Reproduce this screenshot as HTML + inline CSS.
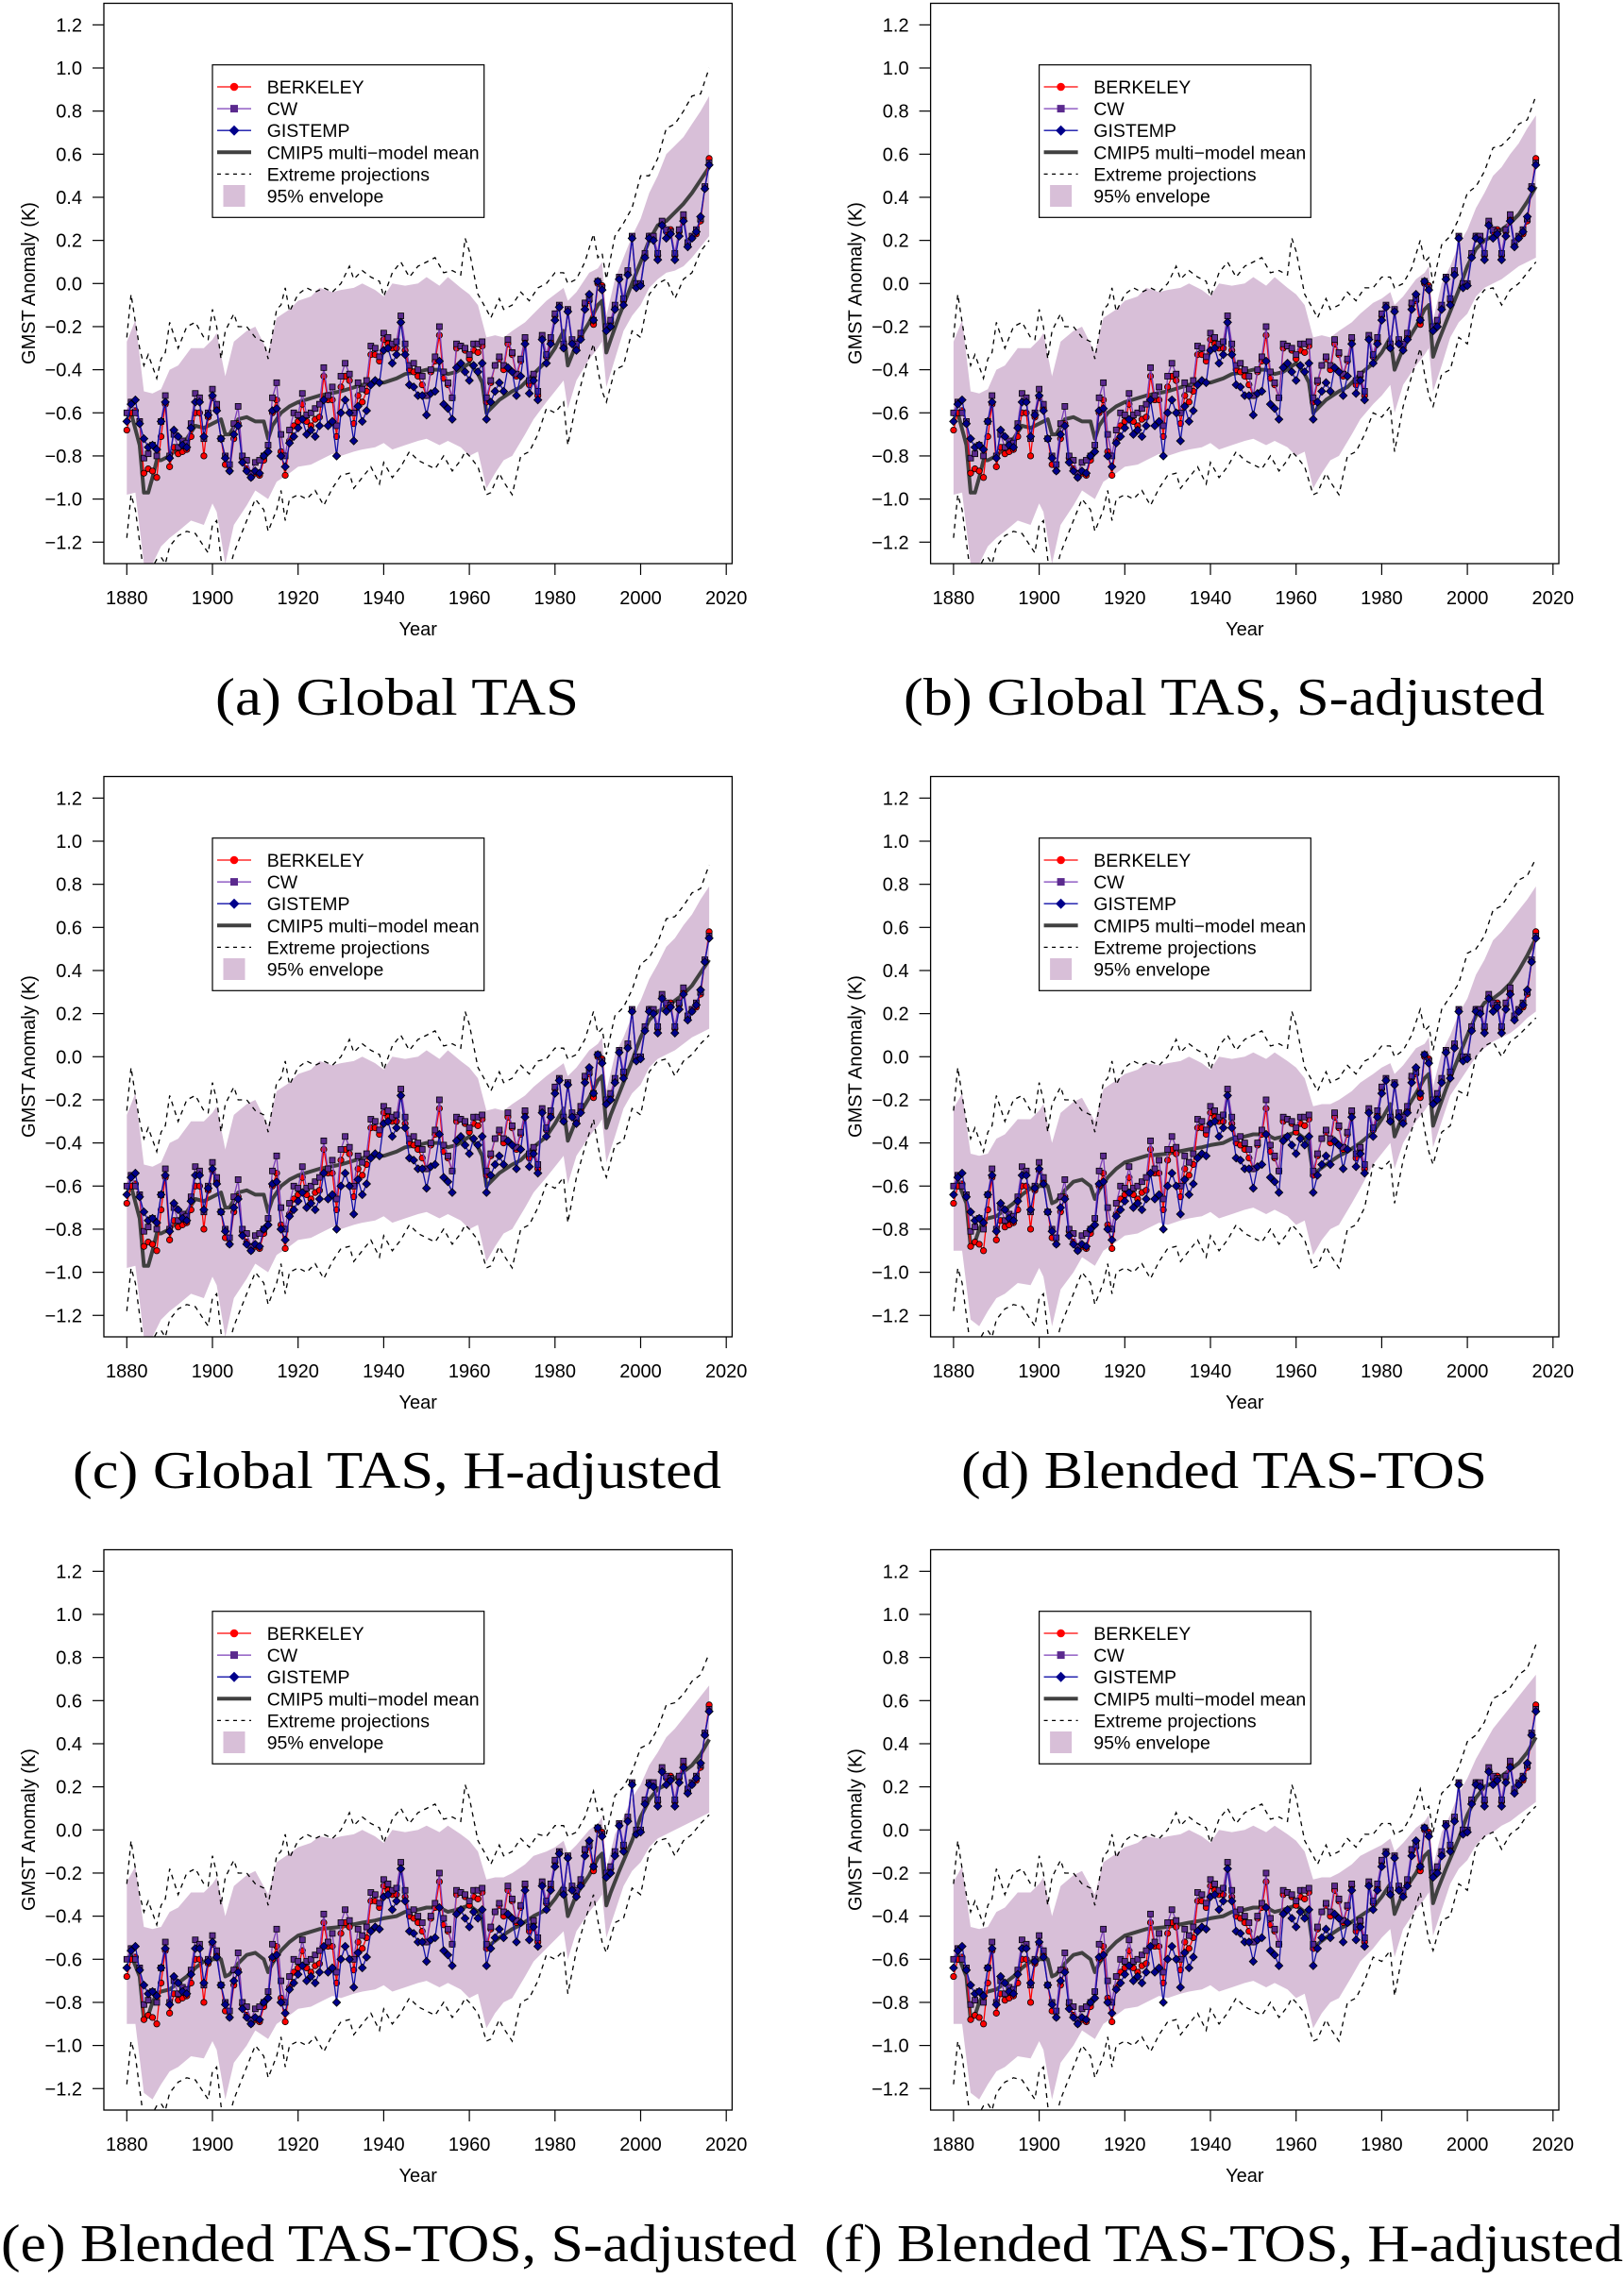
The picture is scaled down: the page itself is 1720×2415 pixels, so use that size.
<!DOCTYPE html>
<html><head><meta charset="utf-8"><style>
html,body{margin:0;padding:0;background:#fff}
svg{display:block}
text{font-family:"Liberation Sans",sans-serif}
.cap{font-family:"Liberation Serif",serif}
</style></head><body>
<svg id="fig" width="1720" height="2415" viewBox="0 0 1720 2415" xmlns="http://www.w3.org/2000/svg"></svg>
<script>
// ---------- observations (shared across panels) ----------
const years = [];
for (let y = 1880; y <= 2016; y++) years.push(y);
const berkeley = [
-0.68,-0.60,-0.59,-0.65,-0.88,-0.86,-0.87,-0.90,-0.71,-0.56,
-0.85,-0.76,-0.79,-0.78,-0.77,-0.71,-0.60,-0.60,-0.80,-0.62,
-0.53,-0.58,-0.72,-0.84,-0.87,-0.72,-0.65,-0.81,-0.86,-0.90,
-0.88,-0.89,-0.82,-0.78,-0.60,-0.54,-0.78,-0.89,-0.73,-0.66,
-0.64,-0.56,-0.64,-0.66,-0.63,-0.62,-0.43,-0.54,-0.54,-0.71,
-0.48,-0.43,-0.45,-0.65,-0.52,-0.55,-0.50,-0.33,-0.33,-0.36,
-0.26,-0.28,-0.30,-0.30,-0.18,-0.31,-0.40,-0.41,-0.43,-0.47,
-0.52,-0.41,-0.36,-0.24,-0.44,-0.47,-0.53,-0.30,-0.29,-0.31,
-0.35,-0.31,-0.32,-0.29,-0.55,-0.46,-0.38,-0.35,-0.40,-0.28,
-0.33,-0.43,-0.36,-0.26,-0.47,-0.43,-0.52,-0.25,-0.34,-0.27,
-0.15,-0.11,-0.30,-0.13,-0.27,-0.30,-0.25,-0.10,-0.08,-0.19,
0.00,-0.01,-0.20,-0.18,-0.11,0.02,-0.08,0.05,0.21,-0.01,
0.00,0.13,0.22,0.21,0.13,0.28,0.24,0.25,0.13,0.24,
0.30,0.18,0.21,0.23,0.29,0.44,0.58];
const cw = [
-0.60,-0.55,-0.60,-0.64,-0.81,-0.79,-0.75,-0.80,-0.64,-0.52,
-0.80,-0.70,-0.76,-0.73,-0.74,-0.65,-0.51,-0.53,-0.72,-0.60,
-0.49,-0.56,-0.72,-0.80,-0.84,-0.65,-0.57,-0.80,-0.82,-0.88,
-0.83,-0.82,-0.80,-0.75,-0.53,-0.46,-0.70,-0.80,-0.68,-0.60,
-0.61,-0.51,-0.61,-0.60,-0.58,-0.56,-0.39,-0.52,-0.48,-0.66,
-0.43,-0.37,-0.42,-0.60,-0.46,-0.49,-0.45,-0.29,-0.30,-0.34,
-0.23,-0.25,-0.28,-0.27,-0.15,-0.28,-0.38,-0.37,-0.40,-0.43,
-0.52,-0.40,-0.34,-0.20,-0.41,-0.46,-0.53,-0.28,-0.29,-0.30,
-0.33,-0.28,-0.28,-0.27,-0.53,-0.45,-0.38,-0.34,-0.38,-0.26,
-0.32,-0.42,-0.35,-0.25,-0.45,-0.42,-0.50,-0.24,-0.33,-0.25,
-0.14,-0.10,-0.28,-0.12,-0.26,-0.28,-0.23,-0.09,-0.07,-0.17,
0.01,-0.02,-0.20,-0.17,-0.10,0.03,-0.07,0.06,0.22,0.00,
0.00,0.14,0.22,0.22,0.14,0.29,0.25,0.24,0.14,0.25,
0.32,0.19,0.22,0.25,0.30,0.45,0.56];
const gistemp = [
-0.64,-0.56,-0.54,-0.65,-0.72,-0.76,-0.75,-0.77,-0.64,-0.55,
-0.81,-0.68,-0.71,-0.75,-0.76,-0.67,-0.55,-0.55,-0.71,-0.61,
-0.52,-0.59,-0.72,-0.81,-0.87,-0.70,-0.66,-0.83,-0.87,-0.90,
-0.87,-0.88,-0.80,-0.78,-0.59,-0.58,-0.80,-0.85,-0.74,-0.71,
-0.67,-0.63,-0.70,-0.68,-0.71,-0.66,-0.54,-0.66,-0.64,-0.80,
-0.60,-0.54,-0.60,-0.73,-0.57,-0.64,-0.59,-0.47,-0.45,-0.46,
-0.31,-0.30,-0.37,-0.33,-0.18,-0.33,-0.47,-0.48,-0.52,-0.52,
-0.61,-0.51,-0.50,-0.36,-0.56,-0.58,-0.63,-0.39,-0.37,-0.41,
-0.45,-0.38,-0.41,-0.37,-0.63,-0.55,-0.50,-0.46,-0.50,-0.39,
-0.41,-0.52,-0.43,-0.28,-0.51,-0.45,-0.54,-0.26,-0.37,-0.28,
-0.17,-0.11,-0.30,-0.13,-0.28,-0.31,-0.26,-0.12,-0.05,-0.17,
0.01,-0.03,-0.22,-0.20,-0.12,0.02,-0.10,0.04,0.21,-0.02,
-0.01,0.12,0.21,0.20,0.11,0.27,0.21,0.23,0.11,0.22,
0.29,0.17,0.21,0.24,0.31,0.44,0.55];

// ---------- model envelope knots ----------
const envYearsEarly = [1880,1882,1884,1886,1888,1890,1892,1895,1898,1900,1901,1903,1905,1908,1910,1913,1915,1918,1920,1923,1925,1928,1930,1933,1935,1938,1940,1942,1945,1948,1950,1953,1955,1958,1960,1962,1964,1966,1968,1970,1973,1975];
const envYearsLate = [1978,1980,1982,1983,1985,1988,1990,1991,1992,1994,1996,1998,2000,2002,2004,2006,2008,2010,2012,2014,2016];
const envUpTasEarly = [-0.27,-0.17,-0.50,-0.51,-0.49,-0.40,-0.38,-0.30,-0.30,-0.26,-0.23,-0.43,-0.27,-0.22,-0.20,-0.32,-0.16,-0.12,-0.08,-0.06,-0.02,-0.04,-0.03,-0.02,0.0,-0.03,-0.06,0.0,-0.01,0.0,0.03,-0.01,0.03,-0.02,-0.05,-0.10,-0.25,-0.24,-0.25,-0.22,-0.18,-0.14];
const envLoTasEarly = [-0.98,-0.97,-1.30,-1.30,-1.22,-1.18,-1.15,-1.10,-1.12,-1.02,-1.06,-1.30,-1.12,-1.03,-0.96,-1.00,-0.92,-0.88,-0.85,-0.84,-0.82,-0.79,-0.80,-0.78,-0.77,-0.76,-0.74,-0.77,-0.75,-0.73,-0.72,-0.75,-0.73,-0.76,-0.80,-0.78,-0.95,-0.88,-0.82,-0.80,-0.70,-0.63];
const envUpBlEarly = [-0.24,-0.17,-0.45,-0.46,-0.45,-0.38,-0.36,-0.29,-0.29,-0.25,-0.22,-0.40,-0.26,-0.21,-0.19,-0.30,-0.15,-0.11,-0.08,-0.06,-0.03,-0.04,-0.03,-0.02,0.0,-0.03,-0.06,0.0,-0.01,0.0,0.02,-0.01,0.02,-0.02,-0.05,-0.10,-0.23,-0.22,-0.22,-0.20,-0.16,-0.12];
const envLoBlEarly = [-0.90,-0.90,-1.22,-1.25,-1.18,-1.12,-1.10,-1.05,-1.06,-0.98,-1.02,-1.25,-1.08,-1.0,-0.93,-0.97,-0.90,-0.86,-0.83,-0.82,-0.80,-0.77,-0.78,-0.76,-0.75,-0.74,-0.72,-0.75,-0.73,-0.71,-0.70,-0.73,-0.71,-0.74,-0.78,-0.76,-0.92,-0.85,-0.80,-0.78,-0.68,-0.61];
const envUpA = [-0.08,-0.05,-0.02,-0.08,-0.04,0.05,0.07,0.10,-0.15,0.02,0.12,0.22,0.30,0.42,0.50,0.60,0.64,0.68,0.74,0.80,0.87];
const envLoA = [-0.55,-0.50,-0.45,-0.58,-0.45,-0.35,-0.30,-0.27,-0.48,-0.35,-0.22,-0.15,-0.10,-0.02,0.02,0.05,0.06,0.08,0.12,0.17,0.22];
const envUpB = [-0.09,-0.07,-0.04,-0.1,-0.06,0.02,0.05,0.08,-0.17,0.0,0.08,0.18,0.25,0.35,0.42,0.50,0.54,0.60,0.65,0.72,0.78];
const envLoB = [-0.56,-0.52,-0.47,-0.60,-0.47,-0.38,-0.33,-0.30,-0.50,-0.38,-0.25,-0.18,-0.14,-0.06,-0.02,0.0,0.02,0.05,0.08,0.10,0.12];
const envUpC = [-0.09,-0.06,-0.03,-0.09,-0.05,0.03,0.06,0.09,-0.16,0.01,0.09,0.19,0.26,0.36,0.43,0.51,0.55,0.61,0.66,0.73,0.79];
const envLoC = [-0.56,-0.51,-0.46,-0.59,-0.46,-0.37,-0.32,-0.29,-0.49,-0.37,-0.24,-0.17,-0.13,-0.05,-0.01,0.01,0.03,0.06,0.09,0.11,0.13];
const envUpD = [-0.08,-0.05,-0.03,-0.08,-0.04,0.04,0.06,0.09,-0.14,0.02,0.10,0.20,0.27,0.38,0.45,0.54,0.58,0.63,0.68,0.73,0.79];
const envLoD = [-0.50,-0.45,-0.40,-0.52,-0.40,-0.30,-0.25,-0.22,-0.42,-0.30,-0.18,-0.12,-0.06,0.0,0.04,0.07,0.09,0.11,0.14,0.18,0.21];
const envUpE = [-0.10,-0.08,-0.05,-0.11,-0.07,0.0,0.03,0.06,-0.18,-0.02,0.06,0.15,0.21,0.30,0.36,0.43,0.47,0.52,0.57,0.62,0.67];
const envLoE = [-0.55,-0.51,-0.47,-0.60,-0.47,-0.38,-0.33,-0.30,-0.50,-0.38,-0.26,-0.19,-0.15,-0.08,-0.04,-0.02,0.0,0.02,0.04,0.06,0.08];
const envUpF = [-0.09,-0.07,-0.04,-0.1,-0.06,0.01,0.04,0.07,-0.17,-0.01,0.07,0.17,0.24,0.33,0.40,0.47,0.52,0.57,0.62,0.67,0.72];
const envLoF = [-0.55,-0.50,-0.46,-0.59,-0.46,-0.37,-0.32,-0.29,-0.49,-0.37,-0.25,-0.18,-0.14,-0.07,-0.03,-0.01,0.02,0.04,0.07,0.10,0.13];

// ---------- multi-model mean knots ----------
const meanYearsEarly = [1880,1881,1883,1884,1885,1886,1887,1888,1890,1892,1894,1896,1898,1900,1902,1903,1904,1906,1908,1910,1912,1913,1914,1916,1918,1920,1925,1930,1935,1938,1940,1943,1945,1948,1950,1953,1955,1957,1960,1962,1963,1964,1965,1967,1970,1972,1975];
const meanYearsLate = [1978,1980,1982,1983,1985,1988,1990,1991,1992,1993,1995,1998,2000,2002,2004,2006,2008,2010,2012,2014,2016];
const meanTasEarly = [-0.62,-0.60,-0.75,-0.97,-0.97,-0.90,-0.82,-0.82,-0.80,-0.76,-0.72,-0.66,-0.67,-0.65,-0.63,-0.70,-0.70,-0.63,-0.62,-0.64,-0.64,-0.72,-0.66,-0.60,-0.57,-0.55,-0.52,-0.50,-0.47,-0.46,-0.46,-0.44,-0.42,-0.41,-0.40,-0.40,-0.42,-0.41,-0.37,-0.42,-0.46,-0.60,-0.58,-0.54,-0.50,-0.48,-0.42];
const meanBlEarly = [-0.60,-0.58,-0.68,-0.88,-0.86,-0.80,-0.76,-0.75,-0.74,-0.71,-0.68,-0.64,-0.61,-0.60,-0.60,-0.68,-0.67,-0.62,-0.58,-0.57,-0.60,-0.66,-0.62,-0.56,-0.52,-0.49,-0.46,-0.45,-0.43,-0.42,-0.41,-0.40,-0.38,-0.37,-0.36,-0.36,-0.38,-0.37,-0.35,-0.38,-0.41,-0.55,-0.53,-0.50,-0.46,-0.44,-0.40];
const meanA = [-0.36,-0.30,-0.22,-0.38,-0.28,-0.18,-0.10,-0.08,-0.32,-0.26,-0.15,0.0,0.10,0.20,0.27,0.29,0.33,0.37,0.42,0.48,0.54];
const meanB = [-0.37,-0.32,-0.25,-0.40,-0.30,-0.20,-0.12,-0.10,-0.34,-0.28,-0.18,-0.03,0.08,0.16,0.20,0.22,0.25,0.28,0.32,0.38,0.45];
const meanC = [-0.37,-0.31,-0.24,-0.39,-0.29,-0.19,-0.11,-0.09,-0.33,-0.27,-0.17,-0.02,0.09,0.17,0.21,0.23,0.26,0.29,0.33,0.39,0.45];
const meanD = [-0.35,-0.29,-0.22,-0.37,-0.27,-0.17,-0.10,-0.08,-0.32,-0.26,-0.15,0.0,0.10,0.19,0.25,0.27,0.30,0.34,0.40,0.47,0.55];
const meanE = [-0.37,-0.32,-0.26,-0.40,-0.30,-0.21,-0.13,-0.11,-0.35,-0.29,-0.19,-0.05,0.06,0.14,0.19,0.21,0.24,0.27,0.30,0.35,0.42];
const meanF = [-0.36,-0.31,-0.25,-0.39,-0.29,-0.20,-0.12,-0.10,-0.34,-0.28,-0.18,-0.04,0.07,0.15,0.20,0.22,0.25,0.28,0.31,0.36,0.43];

// ---------- extreme projections knots ----------
const extYearsEarly = [1880,1881,1882,1883,1884,1885,1887,1888,1889,1890,1892,1894,1896,1898,1899,1900,1901,1902,1903,1905,1906,1908,1910,1912,1913,1915,1916,1917,1918,1920,1922,1924,1926,1928,1930,1932,1933,1935,1937,1939,1940,1942,1944,1946,1948,1950,1952,1954,1956,1958,1959,1960,1962,1964,1965,1967,1968,1970,1972,1974,1976];
const extYearsLate = [1978,1980,1982,1983,1985,1987,1989,1990,1991,1992,1994,1996,1998,2000,2002,2004,2006,2008,2010,2012,2014,2016];
const extUpEarly = [-0.25,-0.05,-0.18,-0.30,-0.38,-0.33,-0.44,-0.35,-0.32,-0.18,-0.30,-0.20,-0.18,-0.25,-0.26,-0.12,-0.20,-0.35,-0.22,-0.14,-0.20,-0.20,-0.25,-0.27,-0.35,-0.12,-0.10,-0.02,-0.13,-0.05,-0.02,-0.04,-0.02,-0.04,0.0,0.08,0.02,0.06,0.03,0.01,-0.06,0.05,0.10,0.03,0.08,0.10,0.12,0.05,0.06,0.04,0.21,0.15,-0.05,-0.12,-0.16,-0.07,-0.12,-0.10,-0.04,-0.08,-0.02];
const extLoEarly = [-1.18,-0.98,-1.05,-1.20,-1.35,-1.35,-1.28,-1.27,-1.30,-1.22,-1.17,-1.15,-1.16,-1.22,-1.25,-1.12,-1.10,-1.28,-1.40,-1.25,-1.20,-1.10,-1.00,-1.05,-1.15,-1.05,-0.96,-1.10,-1.00,-0.98,-1.00,-0.96,-1.03,-0.95,-0.89,-0.88,-0.95,-0.90,-0.85,-0.93,-0.83,-0.90,-0.85,-0.78,-0.82,-0.84,-0.86,-0.80,-0.87,-0.82,-0.78,-0.80,-0.85,-0.98,-0.97,-0.88,-0.92,-0.98,-0.80,-0.78,-0.70];
const extUpA = [0.0,0.05,0.05,0.0,0.02,0.1,0.23,0.12,0.14,0.02,0.22,0.28,0.35,0.50,0.50,0.58,0.72,0.74,0.80,0.87,0.88,1.00];
const extLoA = [-0.58,-0.60,-0.55,-0.75,-0.55,-0.40,-0.28,-0.40,-0.50,-0.55,-0.40,-0.38,-0.22,-0.25,-0.05,0.0,0.02,-0.07,0.02,0.05,0.15,0.20];
const extUpB = [-0.02,0.03,0.03,-0.02,0.0,0.07,0.2,0.10,0.12,0.0,0.18,0.22,0.30,0.42,0.45,0.52,0.63,0.64,0.68,0.74,0.76,0.87];
const extLoB = [-0.60,-0.62,-0.57,-0.78,-0.57,-0.43,-0.30,-0.42,-0.52,-0.57,-0.42,-0.40,-0.25,-0.28,-0.08,-0.03,-0.02,-0.10,-0.03,0.0,0.05,0.10];
const extUpC = [-0.01,0.04,0.04,-0.01,0.01,0.08,0.21,0.11,0.13,0.01,0.19,0.23,0.31,0.43,0.46,0.53,0.64,0.65,0.70,0.76,0.78,0.89];
const extLoC = [-0.59,-0.61,-0.56,-0.77,-0.56,-0.42,-0.29,-0.41,-0.51,-0.56,-0.41,-0.39,-0.24,-0.27,-0.07,-0.02,-0.01,-0.09,-0.02,0.01,0.06,0.10];
const extUpD = [0.0,0.05,0.05,0.0,0.03,0.1,0.22,0.12,0.14,0.03,0.22,0.28,0.34,0.48,0.50,0.56,0.68,0.70,0.76,0.82,0.84,0.92];
const extLoD = [-0.50,-0.52,-0.48,-0.68,-0.48,-0.34,-0.22,-0.34,-0.44,-0.50,-0.35,-0.32,-0.16,-0.18,0.0,0.05,0.07,0.0,0.07,0.10,0.14,0.18];
const extUpE = [-0.03,0.02,0.02,-0.03,-0.01,0.06,0.18,0.08,0.10,-0.02,0.16,0.20,0.27,0.38,0.40,0.47,0.58,0.59,0.63,0.69,0.72,0.82];
const extLoE = [-0.58,-0.60,-0.56,-0.76,-0.56,-0.42,-0.30,-0.42,-0.52,-0.57,-0.43,-0.41,-0.27,-0.30,-0.10,-0.05,-0.04,-0.12,-0.05,-0.02,0.03,0.07];
const extUpF = [-0.02,0.03,0.03,-0.02,0.0,0.07,0.19,0.09,0.11,-0.01,0.17,0.21,0.29,0.41,0.44,0.50,0.61,0.63,0.66,0.72,0.75,0.86];
const extLoF = [-0.59,-0.61,-0.56,-0.77,-0.56,-0.42,-0.29,-0.41,-0.51,-0.56,-0.42,-0.40,-0.25,-0.28,-0.08,-0.03,-0.01,-0.09,-0.02,0.01,0.07,0.11];

const yTicks = [-1.2,-1.0,-0.8,-0.6,-0.4,-0.2,0.0,0.2,0.4,0.6,0.8,1.0,1.2];
const yTickLabels = ["\u22121.2","\u22121.0","\u22120.8","\u22120.6","\u22120.4","\u22120.2","0.0","0.2","0.4","0.6","0.8","1.0","1.2"];
const xTicks = [1880,1900,1920,1940,1960,1980,2000,2020];
const legendLabels = ["BERKELEY","CW","GISTEMP","CMIP5 multi\u2212model mean","Extreme projections","95% envelope"];
const captions = ["(a) Global TAS","(b) Global TAS, S-adjusted","(c) Global TAS, H-adjusted","(d) Blended TAS-TOS","(e) Blended TAS-TOS, S-adjusted","(f) Blended TAS-TOS, H-adjusted"];

const panels = [
 {id:'a',dx:0,dy:0,capX:228,capW:385,eu:envUpTasEarly.concat(envUpA),el:envLoTasEarly.concat(envLoA),m:meanTasEarly.concat(meanA),xu:extUpEarly.concat(extUpA),xl:extLoEarly.concat(extLoA)},
 {id:'b',dx:875.6,dy:0,capX:957,capW:679,eu:envUpTasEarly.concat(envUpB),el:envLoTasEarly.concat(envLoB),m:meanTasEarly.concat(meanB),xu:extUpEarly.concat(extUpB),xl:extLoEarly.concat(extLoB)},
 {id:'c',dx:0,dy:819,capX:77,capW:687,eu:envUpTasEarly.concat(envUpC),el:envLoTasEarly.concat(envLoC),m:meanTasEarly.concat(meanC),xu:extUpEarly.concat(extUpC),xl:extLoEarly.concat(extLoC)},
 {id:'d',dx:875.6,dy:819,capX:1018,capW:557,eu:envUpBlEarly.concat(envUpD),el:envLoBlEarly.concat(envLoD),m:meanBlEarly.concat(meanD),xu:extUpEarly.concat(extUpD),xl:extLoEarly.concat(extLoD)},
 {id:'e',dx:0,dy:1638,capX:1,capW:843,eu:envUpBlEarly.concat(envUpE),el:envLoBlEarly.concat(envLoE),m:meanBlEarly.concat(meanE),xu:extUpEarly.concat(extUpE),xl:extLoEarly.concat(extLoE)},
 {id:'f',dx:875.6,dy:1638,capX:873,capW:846,eu:envUpBlEarly.concat(envUpF),el:envLoBlEarly.concat(envLoF),m:meanBlEarly.concat(meanF),xu:extUpEarly.concat(extUpF),xl:extLoEarly.concat(extLoF)}
];
const envYears = envYearsEarly.concat(envYearsLate);
const meanYears = meanYearsEarly.concat(meanYearsLate);
const extYears = extYearsEarly.concat(extYearsLate);

const NS = 'http://www.w3.org/2000/svg';
const svg = document.getElementById('fig');
function el(tag, attrs, parent) {
  const e = document.createElementNS(NS, tag);
  for (const k in attrs) e.setAttribute(k, attrs[k]);
  (parent || svg).appendChild(e);
  return e;
}
function pts(xs, vs, X, Y) { return xs.map((x, i) => X(x).toFixed(1) + ',' + Y(vs[i]).toFixed(1)).join(' '); }

const defs = el('defs', {});
panels.forEach((p, pi) => {
  const X = yr => p.dx + 134.3 + (yr - 1880) * 4.535;
  const Y = v => p.dy + 300.3 - v * 228.3;
  const L = p.dx + 110, R = p.dx + 775.4, T = p.dy + 3.5, B = p.dy + 597;
  const g = el('g', {});
  
  
  const cp = el('clipPath', {id: 'clip' + p.id}, defs);
  el('rect', {x: L, y: T, width: R - L, height: B - T}, cp);
  const plot = el('g', {'clip-path': 'url(#clip' + p.id + ')'}, g);
  
  

  const up = pts(envYears, p.eu, X, Y);
  const lo = envYears.slice().reverse().map((x, i) => X(x).toFixed(1) + ',' + Y(p.el[p.el.length - 1 - i]).toFixed(1)).join(' ');
  const env = el('polygon', {points: up + ' ' + lo, fill: '#d8bfd8', stroke: 'none'}, plot);
  
  
  const e1 = el('polyline', {points: pts(extYears, p.xu, X, Y), fill: 'none', stroke: '#000', 'stroke-width': 1.3, 'stroke-dasharray': '5,5'}, plot);
  
  
  const e2 = el('polyline', {points: pts(extYears, p.xl, X, Y), fill: 'none', stroke: '#000', 'stroke-width': 1.3, 'stroke-dasharray': '5,5'}, plot);
  
  
  const mn = el('polyline', {points: pts(meanYears, p.m, X, Y), fill: 'none', stroke: '#404040', 'stroke-width': 4, 'stroke-linejoin': 'round'}, plot);
  
  

  const series = [
    {vals: berkeley, col: '#ff0000', mk: 'circle', fill: '#ff0000', name: 'berkeley'},
    {vals: cw, col: '#7b3fb8', mk: 'square', fill: '#5b2a8e', name: 'cw'},
    {vals: gistemp, col: '#1010a8', mk: 'diamond', fill: '#00008b', name: 'gistemp'}
  ];
  series.forEach(s => {
    const sg = el('g', {}, plot);
    
    
    el('polyline', {points: pts(years, s.vals, X, Y), fill: 'none', stroke: s.col, 'stroke-width': 1.3}, sg);
    years.forEach((yr, i) => {
      const cx = X(yr), cy = Y(s.vals[i]);
      let m;
      if (s.mk === 'circle') m = el('circle', {cx: cx, cy: cy, r: 3.2, fill: s.fill, stroke: '#000', 'stroke-width': 0.8}, sg);
      else if (s.mk === 'square') m = el('rect', {x: cx - 3, y: cy - 3, width: 6, height: 6, fill: s.fill, stroke: '#000', 'stroke-width': 0.8}, sg);
      else m = el('polygon', {points: `${cx},${cy-4.2} ${cx+4.2},${cy} ${cx},${cy+4.2} ${cx-4.2},${cy}`, fill: s.fill, stroke: '#000', 'stroke-width': 0.8}, sg);
      
      
    });
  });

  const box = el('rect', {x: L, y: T, width: R - L, height: B - T, fill: 'none', stroke: '#000', 'stroke-width': 1.3}, g);
  
  

  const ya = el('g', {}, g);
  
  
  yTicks.forEach((v, i) => {
    el('line', {x1: L - 12, x2: L, y1: Y(v), y2: Y(v), stroke: '#000', 'stroke-width': 1.2}, ya);
    const t = el('text', {x: L - 23, y: Y(v) + 7, 'text-anchor': 'end', 'font-size': 20}, ya);
    t.textContent = yTickLabels[i];
    
    
  });
  const yt = el('text', {x: p.dx + 37, y: p.dy + 300, 'text-anchor': 'middle', 'font-size': 20, transform: `rotate(-90 ${p.dx + 37} ${p.dy + 300})`}, g);
  yt.textContent = 'GMST Anomaly (K)';
  
  

  const xa = el('g', {}, g);
  
  
  xTicks.forEach(v => {
    el('line', {x1: X(v), x2: X(v), y1: B, y2: B + 12, stroke: '#000', 'stroke-width': 1.2}, xa);
    const t = el('text', {x: X(v), y: B + 43, 'text-anchor': 'middle', 'font-size': 20}, xa);
    t.textContent = String(v);
    
    
  });
  const xt = el('text', {x: (L + R) / 2, y: B + 76, 'text-anchor': 'middle', 'font-size': 20}, g);
  xt.textContent = 'Year';
  
  

  const lg = el('g', {}, g);
  
  
  const lx = p.dx + 225, ly = p.dy + 68.7;
  el('rect', {x: lx, y: ly, width: 287.7, height: 161.6, fill: '#fff', stroke: '#000', 'stroke-width': 1.2}, lg);
  legendLabels.forEach((lab, i) => {
    const ry = ly + 23.3 + i * 23.1;
    const eg = el('g', {}, lg);
    
    
    if (i < 3) {
      const c = series[i];
      el('line', {x1: lx + 5, x2: lx + 41, y1: ry, y2: ry, stroke: c.col, 'stroke-width': 1.3}, eg);
      const cx = lx + 23;
      if (i === 0) el('circle', {cx: cx, cy: ry, r: 4.3, fill: c.fill}, eg);
      else if (i === 1) el('rect', {x: cx - 4, y: ry - 4, width: 8, height: 8, fill: c.fill}, eg);
      else el('polygon', {points: `${cx},${ry-5.5} ${cx+5.5},${ry} ${cx},${ry+5.5} ${cx-5.5},${ry}`, fill: c.fill}, eg);
    } else if (i === 3) {
      el('line', {x1: lx + 5, x2: lx + 41, y1: ry, y2: ry, stroke: '#404040', 'stroke-width': 4}, eg);
    } else if (i === 4) {
      el('line', {x1: lx + 5, x2: lx + 41, y1: ry, y2: ry, stroke: '#000', 'stroke-width': 1.2, 'stroke-dasharray': '4,4.5'}, eg);
    } else {
      el('rect', {x: lx + 11.5, y: ry - 11.5, width: 23, height: 23, fill: '#d8bfd8'}, eg);
    }
    const t = el('text', {x: lx + 57.7, y: ry + 7, 'font-size': 19.5}, eg);
    t.textContent = lab;
  });

  const cap = el('text', {x: p.capX, y: p.dy + 757, 'font-size': 56, 'class': 'cap', textLength: p.capW, lengthAdjust: 'spacingAndGlyphs'}, g);
  cap.textContent = captions[pi];
  
  
});
</script>
</body></html>
